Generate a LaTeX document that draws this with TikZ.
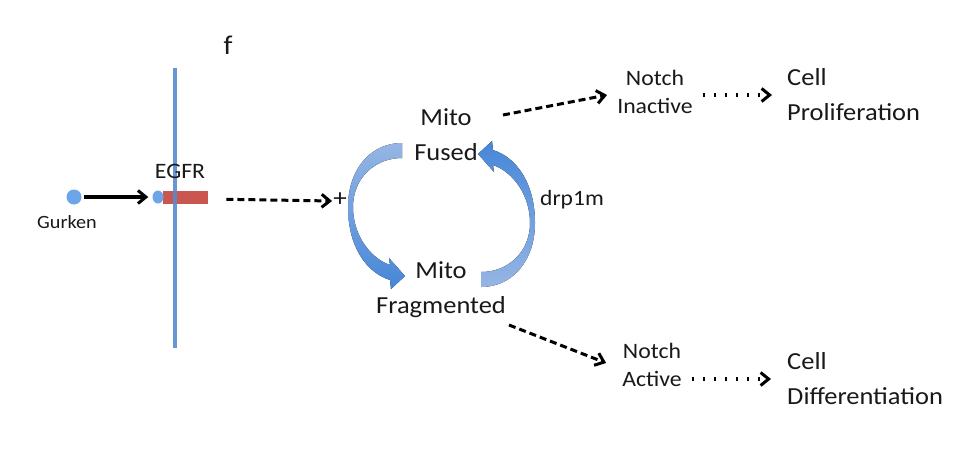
\documentclass[tikz,border=0pt]{standalone}
\usepackage{fontspec}
\setmainfont{Carlito}
\usetikzlibrary{arrows.meta,calc,shapes.geometric}
\definecolor{membblue}{RGB}{88,138,208}
\definecolor{dotblue}{RGB}{108,165,232}
\definecolor{egfrred}{RGB}{202,86,80}
\definecolor{arclight}{RGB}{150,182,228}
\definecolor{arcdark}{RGB}{70,134,216}
\definecolor{inktext}{RGB}{25,25,25}
\begin{document}
\begin{tikzpicture}[x=1pt,y=-1pt,
  lbl/.style={inner sep=0pt, xscale=1.08, text=inktext},
  big/.style={lbl, font=\fontsize{24.5}{35}\selectfont, align=center},
  mid/.style={lbl, font=\fontsize{22}{28}\selectfont, align=center},
  chev/.style={-{Straight Barb[length=8pt,width=13pt,line width=3pt]}},
  solidarrow/.style={chev, line width=3.2pt, black},
  dasharrow/.style={chev, line width=3pt, black, dash pattern=on 7pt off 4pt},
  dotarrow/.style={chev, line width=3.2pt, black, dash pattern=on 2pt off 9pt},
  blob/.style={ellipse, fill=dotblue, inner sep=0pt}]
\fill[white] (0,0) rectangle (955,448);
\useasboundingbox (0,0) rectangle (955,448);

% panel letter
\node[lbl, font=\fontsize{27}{30}\selectfont] (flabel) at (228,45) {f};

% ligand and receptor at the membrane
\node[blob, minimum width=15pt, minimum height=15pt] (gdot) at (74,197) {};
\node[lbl, font=\fontsize{18.7}{22}\selectfont] (gurken) at (67,222) {Gurken};
\node[rectangle, fill=egfrred, minimum width=45pt, minimum height=13pt,
      inner sep=0pt, anchor=west] (egfr) at (163,197) {};
\node[blob, minimum width=11pt, minimum height=13pt] (edot) at (158,197) {};
\coordinate (mtop) at (175,68);
\coordinate (mbot) at (175,348);
\draw[membblue, line width=3.2pt, opacity=0.9] (mtop) -- (mbot);
\node[lbl, font=\fontsize{22}{24}\selectfont] (egfrlbl) at (180,171) {EGFR};
\node[lbl, font=\fontsize{25}{26}\selectfont] (plus) at (340,200) {+};

\draw[solidarrow, shorten <=2pt, shorten >=4pt] (gdot) -- (edot);
\draw[dasharrow, shorten <=18pt, shorten >=1pt] ([yshift=-2pt]egfr.east) -- ([yshift=-1pt]plus.west);

% mitochondrial states
\node[big] (mf) at (446,135) {Mito\\Fused};
\node[big] (mfr) at (441,290) {Mito\\Fragmented};
\node[lbl, font=\fontsize{21.8}{24}\selectfont] (drp) at (572,200) {drp1m};

% fusion / fission cycle arrows
\fill[top color=arclight, bottom color=arcdark]
  (402,143) .. controls (370,143) and (348,170) .. (348,207)
  .. controls (348,245) and (365,272) .. (390,280)
  -- (391,289) -- (405,276) -- (389,258) -- (390,265)
  .. controls (370,258) and (353,235) .. (353,207)
  .. controls (353,178) and (375,158) .. (402,158) -- cycle;
\fill[top color=arcdark, bottom color=arclight]
  (481,287) .. controls (513,287) and (535,260) .. (535,223)
  .. controls (535,185) and (518,158) .. (493,150)
  -- (492,141) -- (478,154) -- (494,172) -- (493,165)
  .. controls (513,172) and (530,195) .. (530,223)
  .. controls (530,252) and (508,272) .. (481,272) -- cycle;

% Notch states and cell fates
\node[mid] (ninact) at (655,92) {Notch\\Inactive};
\node[big, align=left, anchor=west] (cprol) at (787,95) {Cell\\Proliferation};
\node[mid] (nact) at (652,365) {Notch\\Active};
\node[big, align=left, anchor=west] (cdiff) at (787,379) {Cell\\Differentiation};

\draw[dasharrow] ($(mf.east)+(25,-20)$) -- ([xshift=-10pt,yshift=-3pt]ninact.west);
\draw[dasharrow] ($(mfr.east)+(3,35)$) -- ([xshift=-16pt,yshift=2pt]nact.west);
\draw[dotarrow, shorten <=10pt, shorten >=15pt] (ninact.east |- cprol.west) -- (cprol.west);
\draw[dotarrow, shorten <=10pt, shorten >=16pt] (nact.east |- cdiff.west) -- (cdiff.west);
\end{tikzpicture}
\end{document}
